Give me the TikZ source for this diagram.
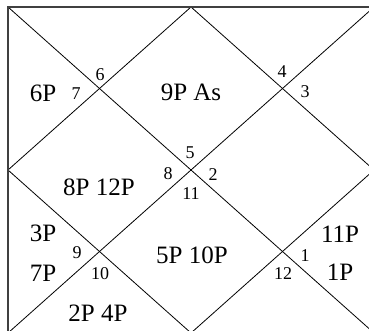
\documentclass[tikz,border=0pt]{standalone}
\usepackage{fontspec}
\setmainfont{Liberation Serif}
\begin{document}
\begin{tikzpicture}[x=1pt,y=-1pt,
  big/.style={font=\fontsize{25}{25}\selectfont, inner sep=0pt},
  num/.style={font=\fontsize{18}{18}\selectfont, inner sep=0pt},
  frame/.style={draw=black!75, line width=2pt},
  diag/.style={draw=black, line width=0.8pt}]
\useasboundingbox (0,0) rectangle (369,331);
\clip (0,0) rectangle (369,331);
\coordinate (tl) at (8,7);
\coordinate (tr) at (374,7);
\coordinate (bl) at (8,333);
\coordinate (br) at (374,333);
\coordinate (tm) at (191,7);
\coordinate (bm) at (191,333);
\coordinate (lm) at (8,170);
\coordinate (rm) at (374,170);
\draw[diag] (tl) -- (br);
\draw[diag] (tr) -- (bl);
\draw[diag] (tm) -- (rm) -- (bm) -- (lm) -- cycle;
\draw[frame] (tl) rectangle (br);
% house labels
\node[big] (h1) at (191,92) {9P As};
\node[big] (h2) at (43,93) {6P};
\node[big] (h3) at (99,187) {8P 12P};
\node[big] (h4) at (43,233) {3P};
\node[big] (h5) at (43,273) {7P};
\node[big] (h6) at (98,313) {2P 4P};
\node[big] (h7) at (192,255) {5P 10P};
\node[big] (h8) at (340,234) {11P};
\node[big] (h9) at (340,272) {1P};
% sign numbers
\node[num] (n6) at (100,75) {6};
\node[num] (n7) at (76,94) {7};
\node[num] (n4) at (282,72) {4};
\node[num] (n3) at (305,92) {3};
\node[num] (n5) at (190,153) {5};
\node[num] (n8) at (168,174) {8};
\node[num] (n2) at (213,175) {2};
\node[num] (n11) at (191,194) {11};
\node[num] (n9) at (77,253) {9};
\node[num] (n10) at (100,274) {10};
\node[num] (n1) at (305,256) {1};
\node[num] (n12) at (283,274) {12};
\end{tikzpicture}
\end{document}
